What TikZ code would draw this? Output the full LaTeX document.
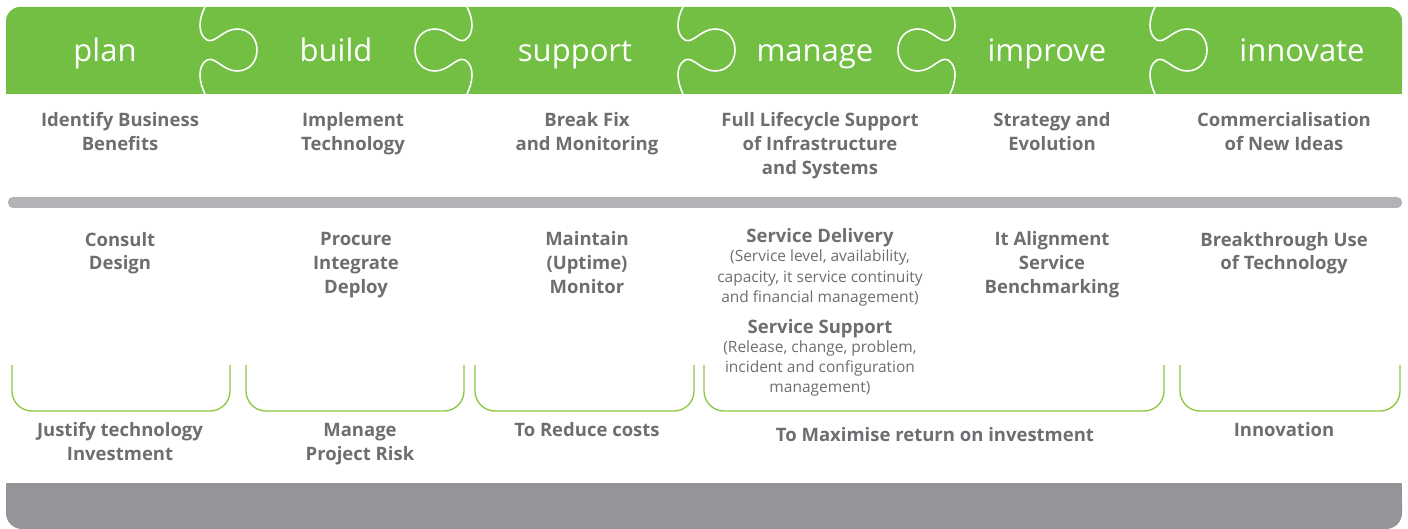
\documentclass[tikz,border=0pt]{standalone}
\usepackage{fontspec}
\setmainfont{Open Sans}
\definecolor{pgreen}{HTML}{72BF44}
\definecolor{ptext}{HTML}{6D6E71}
\definecolor{pbar}{HTML}{B1B3B6}
\definecolor{pbase}{HTML}{939598}
\definecolor{pline}{HTML}{8CC63F}
\newcommand\puzzleseam[2]{%
  \draw[seam] (#1,7) .. controls ({#1-#2*6},18) and ({#1-#2*8},34) .. ({#1+#2*2},40)
    .. controls ({#1+#2*10},44) and ({#1+#2*18},29) .. ({#1+#2*32},29)
    .. controls ({#1+#2*44},29) and ({#1+#2*52},38) .. ({#1+#2*52},50)
    .. controls ({#1+#2*52},62) and ({#1+#2*44},71) .. ({#1+#2*32},71)
    .. controls ({#1+#2*18},71) and ({#1+#2*10},56) .. ({#1+#2*2},60)
    .. controls ({#1-#2*8},66) and ({#1-#2*6},82) .. (#1,94);}
\newcommand\bracketshape[2]{%
  \draw[bracketline] (#1,365) -- (#1,411) -- (#2,411) -- (#2,365);}
\begin{document}
\begin{tikzpicture}[x=1pt,y=-1pt,
  head/.style={text=white, font=\fontsize{31}{36}\selectfont, anchor=base, inner sep=0pt},
  body/.style={text=ptext, font=\fontsize{18.5}{24}\selectfont\bfseries, align=center, anchor=base, inner sep=0pt},
  small/.style={text=ptext, font=\fontsize{15.5}{20.3}\selectfont, align=center, anchor=base, inner sep=0pt},
  seam/.style={white, line width=1.6pt},
  bracketline/.style={pline, line width=1.3pt, rounded corners=20pt},
]
\useasboundingbox (0,0) rectangle (1408,529);
% green header bar
\fill[pgreen, rounded corners=14pt] (6,7) rectangle (1402,94);
\fill[pgreen] (6,50) rectangle (1402,94);
% puzzle seams
\puzzleseam{205}{1}
\puzzleseam{467}{-1}
\puzzleseam{683}{1}
\puzzleseam{950}{-1}
\puzzleseam{1155}{1}
% thin grey bar
\fill[pbar, rounded corners=5pt] (8,197) rectangle (1402,208);
% bottom grey bar
\fill[pbase, rounded corners=16pt] (6,483) rectangle (1402,529);
\fill[pbase] (6,483) rectangle (1402,500);
% brackets
\bracketshape{12}{230}
\bracketshape{246}{464}
\bracketshape{475}{694}
\bracketshape{704}{1164}
\bracketshape{1180}{1400}
% headers
\node[head] (hplan) at (105,62) {plan};
\node[head] (hbuild) at (336,62) {build};
\node[head] (hsupport) at (575,62) {support};
\node[head] (hmanage) at (815,62) {manage};
\node[head] (himprove) at (1047,62) {improve};
\node[head] (hinnovate) at (1302,62) {innovate};
% row 1 (base anchor = baseline of last line)
\node[body] (a1) at (120,151) {Identify Business\\Benefits};
\node[body] (a2) at (353,151) {Implement\\Technology};
\node[body] (a3) at (587,151) {Break Fix\\and Monitoring};
\node[body] (a4) at (820,175) {Full Lifecycle Support\\of Infrastructure\\and Systems};
\node[body] (a5) at (1052,151) {Strategy and\\Evolution};
\node[body] (a6) at (1284,151) {Commercialisation\\of New Ideas};
% row 2
\node[body] (b1) at (120,270) {Consult\\Design};
\node[body] (b2) at (356,294) {Procure\\Integrate\\Deploy};
\node[body] (b3) at (587,294) {Maintain\\(Uptime)\\Monitor};
\node[body] (b4a) at (820,243) {Service Delivery};
\node[small] (b4b) at (820,302.6) {(Service level, availability,\\capacity, it service continuity\\and financial management)};
\node[body] (b4c) at (820,333) {Service Support};
\node[small] (b4d) at (820,392.6) {(Release, change, problem,\\incident and configuration\\management)};
\node[body] (b5) at (1052,294) {It Alignment\\Service\\Benchmarking};
\node[body] (b6) at (1284,270) {Breakthrough Use\\of Technology};
% row 3
\node[body] (c1) at (120,460) {Justify technology\\Investment};
\node[body] (c2) at (360,460) {Manage\\Project Risk};
\node[body] (c3) at (587,436) {To Reduce costs};
\node[body] (c4) at (935,441) {To Maximise return on investment};
\node[body] (c5) at (1284,436) {Innovation};
\end{tikzpicture}
\end{document}
